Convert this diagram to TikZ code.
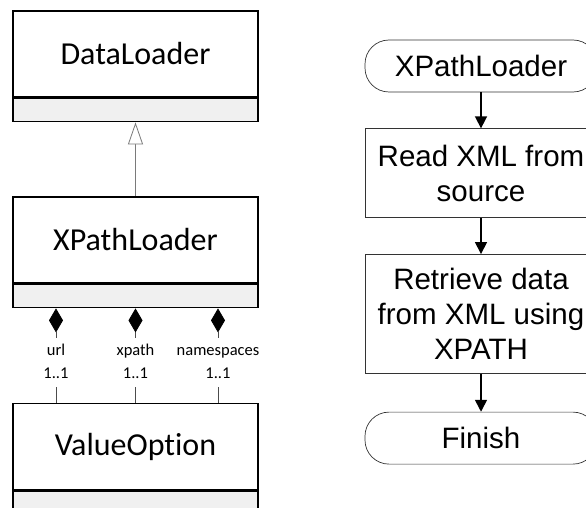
\documentclass[tikz,border=0pt]{standalone}
\usepackage{fontspec}
\newfontfamily\umlfont[Ligatures=NoCommon]{Carlito}
\newfontfamily\flowfont{Liberation Sans}
\usepackage{tikz}
\usetikzlibrary{arrows.meta, positioning, backgrounds}

\definecolor{compgray}{HTML}{F0F0F0}
\definecolor{linegray}{HTML}{7A7A7A}

\begin{document}
\begin{tikzpicture}[
    x=1pt, y=-1pt,
    node distance=36pt,
    cls/.style={rectangle, draw=black, line width=1.6pt, fill=white, minimum width=245pt, minimum height=86pt, font=\umlfont\fontsize{32}{38}\selectfont},
    compart/.style={rectangle, draw=black, line width=1.6pt, fill=compgray, minimum width=245pt, minimum height=23pt},
    role/.style={fill=white, align=center, inner sep=1.5pt, font=\umlfont\fontsize{16.5}{23}\selectfont},
    inherit/.style={-{Triangle[open, length=22pt, width=15pt, fill=white]}, linegray, line width=0.8pt},
    compose/.style={{Diamond[length=24pt, width=14pt, black]}-, black!70, line width=0.7pt},
    term/.style={rectangle, rounded corners=24pt, draw=black!80, line width=0.7pt, minimum width=232pt, minimum height=52pt, font=\flowfont\fontsize{29.5}{35}\selectfont},
    proc/.style={rectangle, draw=black!80, line width=0.7pt, align=center, minimum width=232pt, font=\flowfont\fontsize{29.5}{35}\selectfont},
    flow/.style={-{Triangle[length=12pt, width=12pt]}, black, line width=1.6pt}
]
\useasboundingbox (0,0) rectangle (586,508);
\clip (0,0) rectangle (586,508);

% class diagram
\node[cls] (dl) at (135.5,54) {DataLoader};
\node[compart, below=0pt of dl] (dlc) {};
\node[cls] (xpl) at (135.5,240) {XPathLoader};
\node[compart, below=0pt of xpl] (xplc) {};
\node[cls] (vo) at (135.5,446.5) {ValueOption};
\node[compart, below=0pt of vo] (voc) {};

\draw[inherit] (xpl.north) -- (dlc.south);

\node[role] (url) at (56,362) {\strut url\\1..1\strut};
\node[role] (xpath) at (135.5,362) {\strut xpath\\1..1\strut};
\node[role] (ns) at (218,362) {\strut namespaces\\1..1\strut};

\begin{scope}[on background layer]
\draw[compose] (xplc.south -| url) -- (vo.north -| url);
\draw[compose] (xplc.south -| xpath) -- (vo.north -| xpath);
\draw[compose] (xplc.south -| ns) -- (vo.north -| ns);
\end{scope}

% flow chart
\node[term] (start) at (481,66) {XPathLoader};
\node[proc, minimum height=89pt, below=of start] (read) {Read XML from\\source};
\node[proc, minimum height=119pt, below=of read] (fetch) {Retrieve data\\from XML using\\XPATH};
\node[term, below=38pt of fetch] (finish) {Finish};

\draw[flow] (start) -- (read);
\draw[flow] (read) -- (fetch);
\draw[flow] (fetch) -- (finish);
\end{tikzpicture}
\end{document}
